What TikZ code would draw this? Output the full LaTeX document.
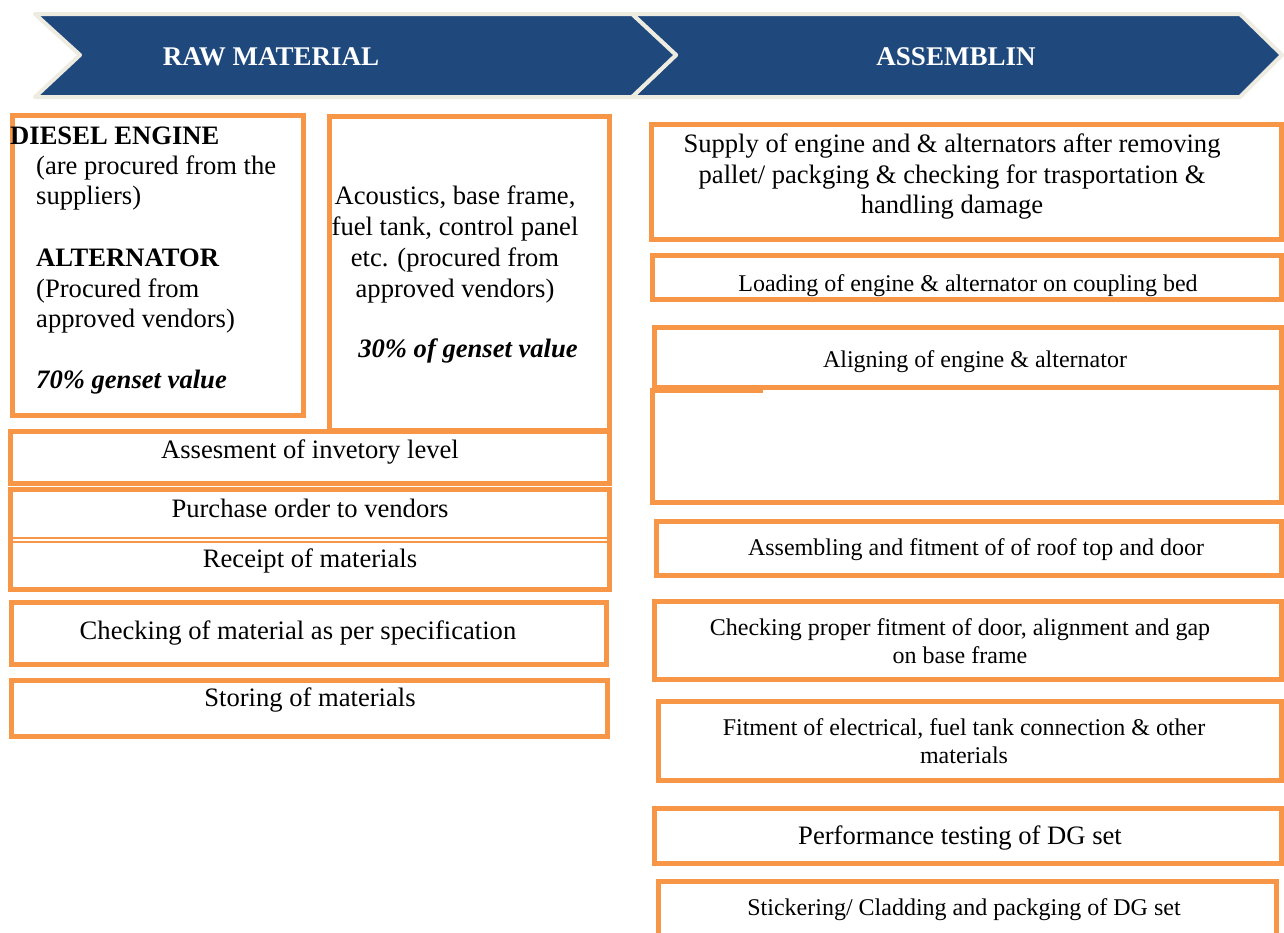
\documentclass[tikz,border=0pt]{standalone}
\usepackage{fontspec}
\setmainfont{Liberation Serif}
\definecolor{orng}{HTML}{F79646}
\definecolor{navy}{HTML}{1F497D}
\definecolor{beige}{HTML}{EEECE1}
\newcommand{\bigfs}{\fontsize{26.6}{31}\selectfont}
\begin{document}
\begin{tikzpicture}[x=1pt,y=-1pt,
  box/.style={draw=orng,line width=5pt},
  thinbox/.style={draw=orng,line width=1.6pt},
  big/.style={font=\bigfs,inner sep=0pt,anchor=base},
  bigl/.style={font=\bigfs,inner sep=0pt,anchor=base west},
  small/.style={font=\fontsize{24}{28}\selectfont,inner sep=0pt,anchor=base},
  chev/.style={fill=navy,draw=beige,line width=4pt,line join=round},
  title/.style={font=\fontsize{27}{31}\selectfont\bfseries,text=white,inner sep=0pt,anchor=base}]
\useasboundingbox (0,0) rectangle (1284,932);
\fill[white] (0,0) rectangle (1284,932);

% chevrons
\draw[chev] (632,14) -- (1240,14) -- (1282,55) -- (1240,97) -- (632,97) -- (676,55) -- cycle;
\draw[chev] (35,14) -- (632,14) -- (676,55) -- (632,97) -- (35,97) -- (80,55) -- cycle;
\node[title] (raw) at (271,65) {RAW MATERIAL};
\node[title] (asm) at (956,65) {ASSEMBLIN};

% left column boxes
\draw[box] (12,115) rectangle (303,415);
\draw[box] (329,116) rectangle (609,430);
\draw[box] (10,431) rectangle (609,483);
\draw[box] (10,489) rectangle (609,589);
\draw[thinbox] (12,538) -- (607,538);
\draw[thinbox] (12,542) -- (607,542);
\draw[box] (11,602) rectangle (606,664);
\draw[box] (11,680) rectangle (607,736);

% left texts
\node[bigl,font=\bigfs\bfseries] (de) at (10,144) {DIESEL ENGINE};
\node[bigl] (de1) at (36,174) {(are procured from the};
\node[bigl] (de2) at (36,204) {suppliers)};
\node[bigl,font=\bigfs\bfseries] (alt) at (36,266) {ALTERNATOR};
\node[bigl] (alt1) at (36,297) {(Procured from};
\node[bigl] (alt2) at (36,327) {approved vendors)};
\node[bigl,font=\bigfs\bfseries\itshape] (p70) at (36,388) {70\% genset value};

\node[big] (ac1) at (455,204) {Acoustics, base frame,};
\node[big] (ac2) at (455,235) {fuel tank, control panel};
\node[big] (ac3) at (455,266) {etc. (procured from};
\node[big] (ac4) at (455,297) {approved vendors)};
\node[big,font=\bigfs\bfseries\itshape] (p30) at (468,357) {30\% of genset value};

\node[big] (assess) at (310,458) {Assesment of invetory level};
\node[big] (po) at (310,517) {Purchase order to vendors};
\node[big] (rec) at (310,567) {Receipt of materials};
\node[big] (chk) at (298,639) {Checking of material as per specification};
\node[big] (sto) at (310,706) {Storing of materials};

% right column boxes
\draw[box] (651,124) rectangle (1281,239);
\draw[box] (652,255) rectangle (1281,299);
\draw[box] (654,327) rectangle (1281,387);
\draw[box] (763,390) -- (652,390) -- (652,502) -- (1281,502) -- (1281,387);
\draw[box] (656,521) rectangle (1281,575);
\draw[box] (654,601) rectangle (1281,679);
\draw[box] (658,701) rectangle (1281,780);
\draw[box] (654,808) rectangle (1281,863);
\draw[box] (658,881) rectangle (1276,945);

% right texts
\node[big] (sup1) at (952,152) {Supply of engine and \& alternators after removing};
\node[big] (sup2) at (952,183) {pallet/ packging \& checking for trasportation \&};
\node[big] (sup3) at (952,213) {handling damage};
\node[small] (load) at (968,291) {Loading of engine \& alternator on coupling bed};
\node[small] (align) at (975,367) {Aligning of engine \& alternator};
\node[small] (assem) at (976,555) {Assembling and fitment of of roof top and door};
\node[small] (cp1) at (960,635) {Checking proper fitment of door, alignment and gap};
\node[small] (cp2) at (960,663) {on base frame};
\node[small] (fit1) at (964,735) {Fitment of electrical, fuel tank connection \& other};
\node[small] (fit2) at (964,763) {materials};
\node[big] (perf) at (960,844) {Performance testing of DG set};
\node[small] (stick) at (964,915) {Stickering/ Cladding and packging of DG set};
\end{tikzpicture}
\end{document}
